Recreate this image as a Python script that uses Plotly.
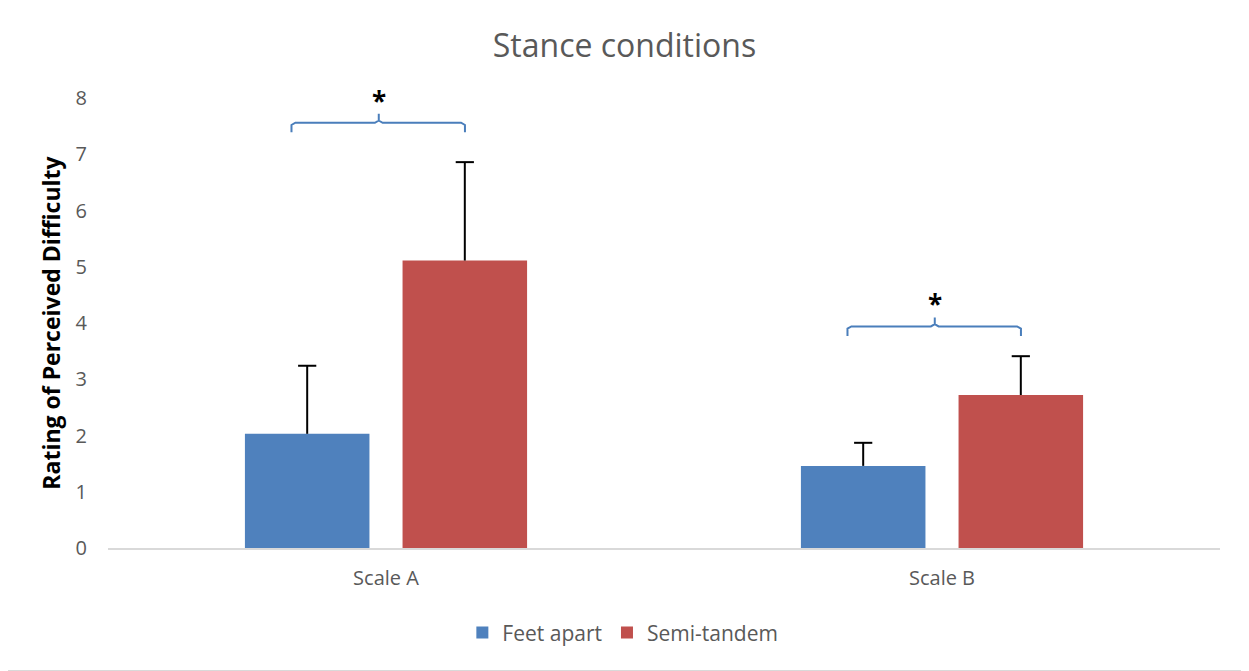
import plotly.graph_objects as go

# Data
categories = ["Scale A", "Scale B"]
feet_apart = [2.03, 1.46]
feet_apart_err = [1.21, 0.41]
semi_tandem = [5.11, 2.72]
semi_tandem_err = [1.75, 0.69]

# significance brackets (one per category)
sig_level = [7.56, 3.94]
sig_label = ["*", "*"]

BLUE = "#4f81bd"
RED = "#c0504d"
GREY = "#595959"
FONT = "Open Sans"

BARGAP = 0.433
GROUPGAP = 0.21
# centre offset of each bar inside its group
offset = (1 - BARGAP) / 4

# page body adds an 8px margin, so the plot box is laid out from there
ML, MT, PW, PH = 100, 90, 1112, 450

cat_x = list(range(len(categories)))

fig = go.Figure()

for name, vals, errs, color, sign in [
    ("Feet apart", feet_apart, feet_apart_err, BLUE, -1),
    ("Semi-tandem", semi_tandem, semi_tandem_err, RED, 1),
]:
    fig.add_trace(go.Bar(
        x=cat_x, y=vals, name=name,
        marker=dict(color=color, line=dict(width=0)),
    ))
    # upper-only error bars: whisker from the bar top, cap as marker
    fig.add_trace(go.Scatter(
        x=[c + sign * offset for c in cat_x],
        y=[v + e for v, e in zip(vals, errs)],
        mode="markers",
        marker=dict(symbol="line-ew", size=13, line=dict(width=2, color="black")),
        error_y=dict(type="data", symmetric=False, array=[0] * len(errs),
                     arrayminus=errs, width=0, thickness=2, color="black"),
        showlegend=False, hoverinfo="skip",
    ))

# brackets with asterisks
for c, lvl, lab in zip(cat_x, sig_level, sig_label):
    L, M, R = c - 0.17, c - 0.013, c + 0.142
    drop, tip, d = 0.17, 0.16, 0.007
    xs = [L, L, L + d, M - d, M, M, M, M + d, R - d, R, R]
    ys = [lvl - drop, lvl - 0.04, lvl, lvl, lvl + 0.04, lvl + tip,
          lvl + 0.04, lvl, lvl, lvl - 0.04, lvl - drop]
    fig.add_trace(go.Scatter(
        x=xs, y=ys, mode="lines", line=dict(color="#4a7ebb", width=2),
        showlegend=False, hoverinfo="skip",
    ))
    fig.add_annotation(
        x=M, y=lvl + tip, text=f"<b>{lab}</b>", showarrow=False,
        yanchor="bottom", yshift=-7, font=dict(family=FONT, size=26, color="black"),
    )

# light border round the whole chart
fig.add_shape(type="rect", xref="paper", yref="paper",
              x0=(-7.5 - ML) / PW, x1=(1240.5 - ML) / PW,
              y0=(MT + PH - 662.5) / PH, y1=(MT + PH + 7.5) / PH,
              line=dict(color="#d9d9d9", width=1), layer="below")

fig.update_layout(
    width=1249, height=671,
    margin=dict(l=ML, r=1249 - ML - PW, t=MT, b=671 - MT - PH),
    paper_bgcolor="white", plot_bgcolor="white",
    barmode="group", bargap=BARGAP, bargroupgap=GROUPGAP,
    title=dict(text="Stance conditions", x=(624.5 - 8) / 1249, xanchor="center",
               y=1 - 38 / 671, yanchor="middle",
               font=dict(family=FONT, size=32, color=GREY)),
    font=dict(family=FONT, color=GREY),
    xaxis=dict(
        range=[-0.5, len(categories) - 0.5],
        tickvals=cat_x, ticktext=categories,
        showgrid=False, zeroline=False, ticks="",
        showline=True, linecolor="#d9d9d9", linewidth=1.5,
        tickfont=dict(family=FONT, size=20, color=GREY),
        ticklabelstandoff=11,
    ),
    yaxis=dict(
        range=[0, 8], dtick=1, showgrid=False, zeroline=False,
        showline=False, ticks="",
        tickfont=dict(family=FONT, size=20, color=GREY),
        ticklabelstandoff=20,
        title=dict(text="<b>Rating of Perceived Difficulty</b>", standoff=8,
                   font=dict(family=FONT, size=23, color="black")),
    ),
    legend=dict(orientation="h", x=0.463, xanchor="center", y=-0.143,
                yanchor="top", font=dict(family=FONT, size=21, color=GREY),
                itemclick=False),
)

fig.write_html("out.html")
